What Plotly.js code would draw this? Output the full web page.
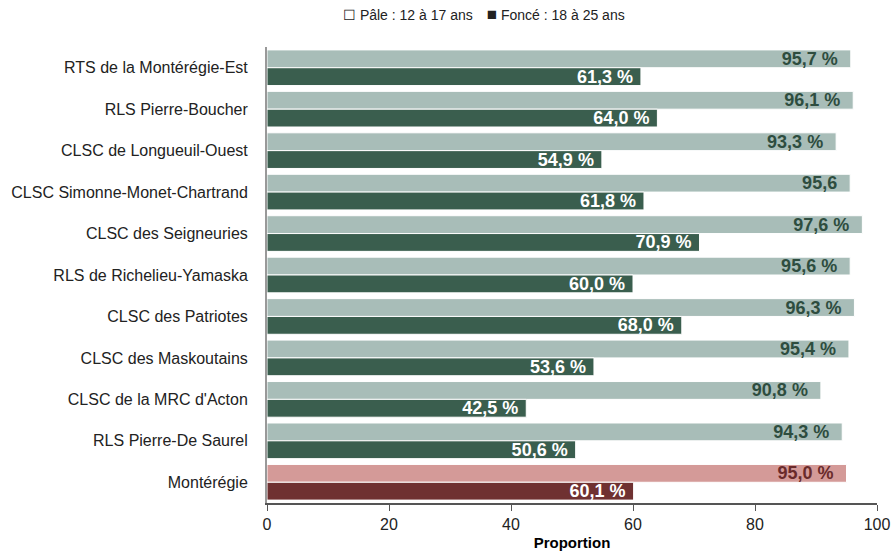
<!DOCTYPE html>
<html>
<head>
<meta charset="utf-8">
<script src="https://cdn.plot.ly/plotly-3.0.1.min.js"></script>
<style>html,body{margin:0;padding:0;background:#fff;}#chart{width:894px;height:554px;}</style>
</head>
<body>
<div id="chart"></div>
<script>
var categories = ["RTS de la Montérégie-Est","RLS Pierre-Boucher","CLSC de Longueuil-Ouest","CLSC Simonne-Monet-Chartrand","CLSC des Seigneuries","RLS de Richelieu-Yamaska","CLSC des Patriotes","CLSC des Maskoutains","CLSC de la MRC d'Acton","RLS Pierre-De Saurel","Montérégie"];
var pale12to17 = [95.7, 96.1, 93.3, 95.6, 97.6, 95.6, 96.3, 95.4, 90.8, 94.3, 95.0];
var fonce18to25 = [61.3, 64.0, 54.9, 61.8, 70.9, 60.0, 68.0, 53.6, 42.5, 50.6, 60.1];
var paleLabels = ["95,7 %","96,1 %","93,3 %","95,6","97,6 %","95,6 %","96,3 %","95,4 %","90,8 %","94,3 %","95,0 %"];
var foncLabels = ["61,3 %","64,0 %","54,9 %","61,8 %","70,9 %","60,0 %","68,0 %","53,6 %","42,5 %","50,6 %","60,1 %"];
var xTicks = [0, 20, 40, 60, 80, 100];

var font = "Liberation Sans, Arial, sans-serif";
var isRegion = categories.map(function(c){ return c === "Montérégie"; });
var paleColors = isRegion.map(function(r){ return r ? "#d49a98" : "#a8bdb8"; });
var darkColors = isRegion.map(function(r){ return r ? "#6f3131" : "#3a5e4e"; });
var paleTextColors = isRegion.map(function(r){ return r ? "#6a2b2b" : "#2e4d3f"; });

var traces = [
  {
    type: "bar", orientation: "h", name: "Pâle : 12 à 17 ans",
    y: categories, x: pale12to17, text: paleLabels,
    texttemplate: "%{text}\u00a0\u00a0", textposition: "inside", insidetextanchor: "end",
    constraintext: "none", cliponaxis: false,
    textfont: {family: font, size: 18, color: paleTextColors, weight: "bold"},
    marker: {color: paleColors, line: {color: "#ffffff", width: 1}},
    hoverinfo: "none"
  },
  {
    type: "bar", orientation: "h", name: "Foncé : 18 à 25 ans",
    y: categories, x: fonce18to25, text: foncLabels,
    texttemplate: "%{text}\u00a0", textposition: "inside", insidetextanchor: "end",
    constraintext: "none", cliponaxis: false,
    textfont: {family: font, size: 18, color: "#ffffff", weight: "bold"},
    marker: {color: darkColors, line: {color: "#ffffff", width: 1}},
    hoverinfo: "none"
  }
];

var layout = {
  width: 894, height: 554,
  margin: {l: 267, r: 17, t: 47, b: 51},
  paper_bgcolor: "#ffffff", plot_bgcolor: "#ffffff",
  barmode: "group", bargap: 0.14, bargroupgap: 0.0,
  showlegend: false,
  font: {family: font, size: 16, color: "#222222"},
  xaxis: {
    range: [0, 100], tickvals: xTicks, ticktext: xTicks.map(String),
    showgrid: false, zeroline: false,
    showline: true, linecolor: "#555555", linewidth: 1.5,
    ticks: "outside", ticklen: 6, tickcolor: "#555555", tickwidth: 1,
    tickfont: {family: font, size: 16, color: "#222222"},
    title: {text: "Proportion", font: {family: font, size: 15, color: "#000000", weight: "bold"}, standoff: 6},
    fixedrange: true
  },
  yaxis: {
    autorange: "reversed", showgrid: false, zeroline: false,
    showline: true, linecolor: "#999999", linewidth: 2,
    ticks: "", ticklabelstandoff: 14,
    tickfont: {family: font, size: 16, color: "#222222"},
    fixedrange: true
  },
  annotations: [{
    xref: "paper", yref: "paper", x: 0.355, y: 1, yshift: 33,
    xanchor: "center", yanchor: "middle", showarrow: false,
    text: "\u2610 " + traces[0].name + "\u2003<span style='font-size:17px'>\u25A0</span> " + traces[1].name,
    font: {family: font, size: 14, color: "#222222"}
  }]
};

Plotly.newPlot("chart", traces, layout, {displayModeBar: false, staticPlot: true});
</script>
</body>
</html>
